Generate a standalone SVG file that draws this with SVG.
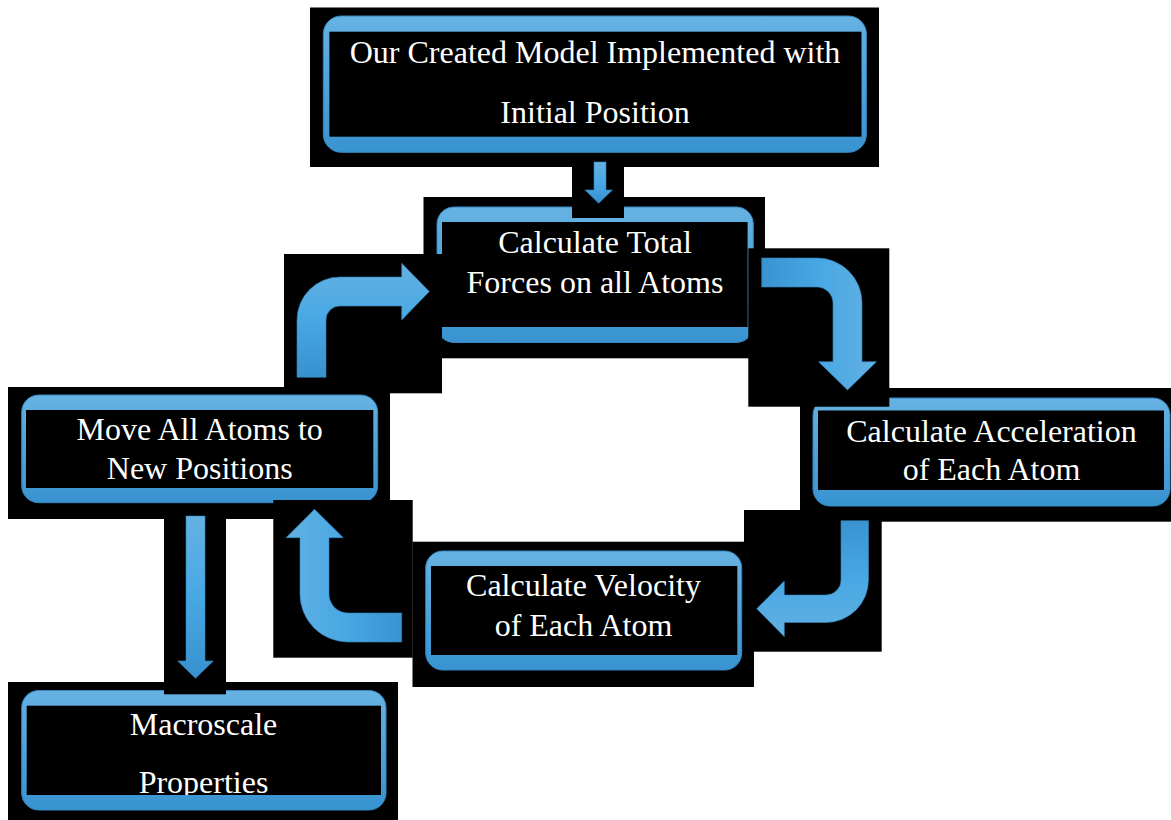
<svg xmlns="http://www.w3.org/2000/svg" width="1171" height="820" viewBox="0 0 1171 820">
<defs>
<linearGradient id="gBox" x1="0" y1="0" x2="0" y2="1">
<stop offset="0" stop-color="#66b2e3"/>
<stop offset="1" stop-color="#3893d0"/>
</linearGradient>
<linearGradient id="gDown" x1="0" y1="0" x2="0" y2="1">
<stop offset="0" stop-color="#65b1e2"/>
<stop offset="0.5" stop-color="#47a8e4"/>
<stop offset="1" stop-color="#3891cf"/>
</linearGradient>
<linearGradient id="gUp" x1="0" y1="0" x2="0" y2="1">
<stop offset="0" stop-color="#3993d1"/>
<stop offset="0.5" stop-color="#48a8e4"/>
<stop offset="1" stop-color="#62b0e2"/>
</linearGradient>
<linearGradient id="gRight" x1="0" y1="0" x2="1" y2="0">
<stop offset="0" stop-color="#3993d1"/>
<stop offset="0.5" stop-color="#48a8e4"/>
<stop offset="1" stop-color="#62b0e2"/>
</linearGradient>
<linearGradient id="gLeft" x1="0" y1="0" x2="1" y2="0">
<stop offset="0" stop-color="#62b0e2"/>
<stop offset="0.5" stop-color="#48a8e4"/>
<stop offset="1" stop-color="#3993d1"/>
</linearGradient>
<clipPath id="clip6"><rect x="26.7" y="705.7" width="354.3" height="89.3"/></clipPath>
</defs>
<style>
.bg{fill:#000}
.frame{fill:url(#gBox);stroke:#3586bf;stroke-width:1}
.inner{fill:#000}
.t{font-family:"Liberation Serif","Times New Roman",serif;font-size:32px;fill:#ffffff;text-anchor:middle}
.arr{stroke:#3283bb;stroke-width:0.6}
</style>
<rect x="0" y="0" width="1171" height="820" fill="#ffffff"/>

<g id="node-initial">
<rect class="bg" x="310" y="7.5" width="569" height="159.5"/>
<rect class="frame" x="323.3" y="16" width="543.1" height="136.3" rx="18"/>
<rect class="inner" x="329.4" y="31.7" width="532.1" height="105"/>
<text class="t" x="595" y="63">Our Created Model Implemented with</text>
<text class="t" x="595" y="123">Initial Position</text>
</g>

<g id="node-forces">
<rect class="bg" x="423.5" y="197" width="341.5" height="161.3"/>
<rect class="frame" x="437" y="207" width="316.3" height="135.5" rx="17"/>
<rect class="inner" x="442" y="222" width="305.6" height="105"/>
<text class="t" x="595" y="253">Calculate Total</text>
<text class="t" x="595" y="293">Forces on all Atoms</text>
</g>

<g id="node-acceleration">
<rect class="bg" x="800" y="388" width="371" height="133.7"/>
<rect class="frame" x="813" y="398" width="357" height="108" rx="17"/>
<rect class="inner" x="818" y="410.5" width="346" height="79.5"/>
<text class="t" x="991.5" y="441.7">Calculate Acceleration</text>
<text class="t" x="991.5" y="480">of Each Atom</text>
</g>

<g id="node-velocity">
<rect class="bg" x="412.5" y="541.7" width="341.5" height="145.3"/>
<rect class="frame" x="425.7" y="551" width="316" height="119" rx="17"/>
<rect class="inner" x="431" y="566" width="306.3" height="89"/>
<text class="t" x="583.5" y="596">Calculate Velocity</text>
<text class="t" x="583.5" y="635.7">of Each Atom</text>
</g>

<g id="node-move">
<rect class="bg" x="8" y="387" width="382" height="132"/>
<rect class="frame" x="21.7" y="395" width="356" height="107.7" rx="17"/>
<rect class="inner" x="26" y="410" width="347.3" height="78"/>
<text class="t" x="199.7" y="440">Move All Atoms to</text>
<text class="t" x="199.7" y="479.3">New Positions</text>
</g>

<g id="node-macroscale">
<rect class="bg" x="8" y="682" width="390" height="138"/>
<rect class="frame" x="21.7" y="690.5" width="364.3" height="119.5" rx="17"/>
<rect class="inner" x="26.7" y="705.7" width="354.3" height="89.3"/>
<g clip-path="url(#clip6)">
<text class="t" x="203.5" y="735">Macroscale</text>
<text class="t" x="203.5" y="792.7">Properties</text>
</g>
</g>

<g id="connectors">
<rect class="bg" x="572" y="161" width="52" height="57"/>
<path class="arr" fill="url(#gDown)" d="M594,162 H606 V190 H612.4 L598.7,203.3 L585,190 H594 Z"/>

<rect class="bg" x="748.3" y="248.3" width="141" height="158.4"/>
<path class="arr" fill="url(#gRight)" d="M761.7,258 H817 A45,45 0 0 1 862,303 V361.7 H876.5 L847.5,390 L818.5,361.7 H833 V303 A16,16 0 0 0 817,287 H761.7 Z"/>

<rect class="bg" x="744" y="510" width="137.7" height="141.7"/>
<path class="arr" fill="url(#gUp)" d="M841,520.7 H868.5 V580 A42.5,42.5 0 0 1 826,622.5 H784.3 V636.7 L756.7,608.7 L784.3,581 V595 H826 A15,15 0 0 0 841,580 Z"/>

<rect class="bg" x="273.3" y="500" width="139.4" height="157.7"/>
<path class="arr" fill="url(#gLeft)" d="M401.7,613 H348 A19,19 0 0 1 329,594 V537.7 H343.3 L314.5,509.3 L286,537.7 H300 V594 A48,48 0 0 0 348,642 H401.7 Z"/>

<rect class="bg" x="284" y="254" width="158" height="139.3"/>
<path class="arr" fill="url(#gDown)" d="M297,377.3 V320 A43,43 0 0 1 340,277 H401.7 V263.3 L429.3,291.5 L401.7,320 V306 H340 A14,14 0 0 0 326,320 V377.3 Z"/>

<rect class="bg" x="164" y="516" width="62" height="178.3"/>
<path class="arr" fill="url(#gDown)" d="M186,516 H205 V661 H213.3 L195.5,678.3 L177.7,661 H186 Z"/>
</g>
</svg>
